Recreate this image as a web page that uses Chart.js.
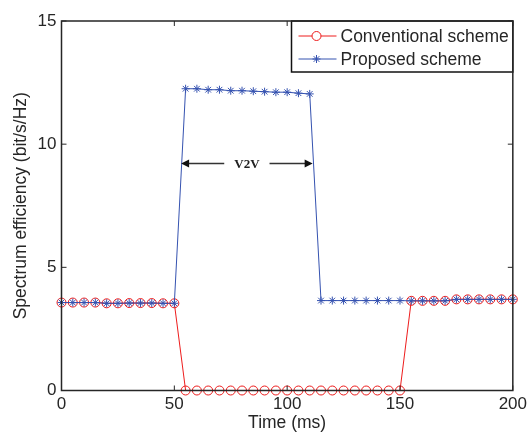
<!DOCTYPE html>
<html>
<head>
<meta charset="utf-8">
<script src="https://cdn.jsdelivr.net/npm/chart.js@4.4.1/dist/chart.umd.min.js"></script>
<style>
	body { margin: 0; background: #fff; }
	canvas { display: block; }
</style>
</head>
<body>
<canvas id="myChart" width="531" height="432"></canvas>
<script>
// time axis (ms), one point every 5 ms
const time = [0, 5, 10, 15, 20, 25, 30, 35, 40, 45, 50,
	55, 60, 65, 70, 75, 80, 85, 90, 95, 100, 105, 110,
	115, 120, 125, 130, 135, 140, 145, 150,
	155, 160, 165, 170, 175, 180, 185, 190, 195, 200];

// spectrum efficiency (bit/s/Hz)
const conventional = [3.57, 3.57, 3.57, 3.57, 3.54, 3.54, 3.55, 3.55, 3.55, 3.54, 3.54,
	0, 0, 0, 0, 0, 0, 0, 0, 0, 0, 0, 0,
	0, 0, 0, 0, 0, 0, 0, 0,
	3.64, 3.64, 3.64, 3.64, 3.70, 3.70, 3.70, 3.70, 3.70, 3.70];
const proposed = [3.57, 3.57, 3.57, 3.57, 3.54, 3.54, 3.55, 3.55, 3.55, 3.54, 3.54,
	12.25, 12.25, 12.21, 12.21, 12.17, 12.17, 12.15, 12.13, 12.11, 12.11, 12.07, 12.04,
	3.65, 3.65, 3.65, 3.65, 3.65, 3.65, 3.65, 3.65,
	3.64, 3.64, 3.64, 3.64, 3.70, 3.70, 3.70, 3.70, 3.70, 3.70];

const seriesNames = ['Conventional scheme', 'Proposed scheme'];
const xTicks = [0, 50, 100, 150, 200];
const yTicks = [0, 5, 10, 15];

// the V2V arrow (data units)
const arrowFrom = 53;
const arrowTo = 111.3;
const arrowY = 9.22;
const arrowText = 'V2V';

const red = '#ee1c1c';
const blue = '#3552b0';
const ink = '#262626';
const sans = '"Liberation Sans", Arial, sans-serif';

const toPoints = (vals) => vals.map((v, i) => ({x: time[i], y: v}));

// box round the plot, inward ticks, legend and the arrow
const matlabLook = {
	id: 'matlabLook',
	beforeDraw(chart) {
		const c = chart.ctx;
		c.save();
		c.fillStyle = '#fff';
		c.fillRect(0, 0, chart.width, chart.height);
		c.restore();
	},
	afterDatasetsDraw(chart) {
		const c = chart.ctx;
		const a = chart.chartArea;
		const xs = chart.scales.x;
		const ys = chart.scales.y;
		c.save();

		// arrow
		const x1 = xs.getPixelForValue(arrowFrom);
		const x2 = xs.getPixelForValue(arrowTo);
		const yA = ys.getPixelForValue(arrowY);
		const mid = (x1 + x2) / 2;
		c.font = 'bold 13px "Liberation Serif", "Times New Roman", serif';
		const tw = c.measureText(arrowText).width;
		c.fillStyle = '#222';
		c.textAlign = 'center';
		c.textBaseline = 'middle';
		c.fillText(arrowText, mid, yA + 1);
		c.strokeStyle = '#333';
		c.lineWidth = 1.5;
		c.beginPath();
		c.moveTo(x1 + 6, yA); c.lineTo(mid - tw / 2 - 10, yA);
		c.moveTo(mid + tw / 2 + 10, yA); c.lineTo(x2 - 6, yA);
		c.stroke();
		c.fillStyle = '#111';
		c.beginPath();
		c.moveTo(x1, yA); c.lineTo(x1 + 8, yA - 4); c.lineTo(x1 + 8, yA + 4); c.closePath();
		c.moveTo(x2, yA); c.lineTo(x2 - 8, yA - 4); c.lineTo(x2 - 8, yA + 4); c.closePath();
		c.fill();

		// ticks pointing inward, on all four sides
		c.strokeStyle = ink;
		c.lineWidth = 1;
		c.beginPath();
		xTicks.forEach(t => {
			const px = xs.getPixelForValue(t);
			c.moveTo(px, a.bottom); c.lineTo(px, a.bottom - 5);
			c.moveTo(px, a.top); c.lineTo(px, a.top + 5);
		});
		yTicks.forEach(t => {
			const py = ys.getPixelForValue(t);
			c.moveTo(a.left, py); c.lineTo(a.left + 5, py);
			c.moveTo(a.right, py); c.lineTo(a.right - 5, py);
		});
		c.stroke();

		// legend, tucked in the top right corner
		const lx = 291.5, ly = a.top, lw = a.right - lx, lh = 51;
		c.fillStyle = '#fff';
		c.fillRect(lx, ly, lw, lh);
		c.strokeStyle = '#111';
		c.lineWidth = 1.5;
		c.strokeRect(lx, ly, lw, lh);
		chart.data.datasets.forEach((ds, i) => {
			const rowY = ly + 15 + i * 23;
			c.strokeStyle = ds.borderColor;
			c.lineWidth = 1;
			c.beginPath();
			c.moveTo(lx + 7, rowY); c.lineTo(lx + 45, rowY);
			c.stroke();
			Chart.helpers.drawPoint(c, {
				pointStyle: ds.pointStyle,
				radius: ds.pointRadius,
				borderWidth: 1,
				rotation: 0
			}, lx + 25, rowY);
			c.fillStyle = ink;
			c.font = '17.5px ' + sans;
			c.textAlign = 'left';
			c.textBaseline = 'middle';
			c.fillText(ds.label, lx + 49, rowY + 1);
		});

		// the box itself
		c.strokeStyle = ink;
		c.lineWidth = 1.5;
		c.strokeRect(a.left, a.top, a.right - a.left, a.bottom - a.top);
		c.restore();
	}
};

const myChart = document.getElementById('myChart');

let lineChart = new Chart(myChart, {
	type: 'line',
	data: {
		datasets: [{
			label: seriesNames[0],
			data: toPoints(conventional),
			borderColor: red,
			borderWidth: 1,
			pointStyle: 'circle',
			pointRadius: 4.5,
			pointBorderColor: red,
			pointBackgroundColor: 'rgba(0,0,0,0)',
			pointBorderWidth: 1,
			tension: 0,
			clip: false,
			order: 1
		}, {
			label: seriesNames[1],
			data: toPoints(proposed),
			borderColor: blue,
			borderWidth: 1,
			pointStyle: 'star',
			pointRadius: 4,
			pointBorderColor: blue,
			pointBackgroundColor: blue,
			pointBorderWidth: 1,
			tension: 0,
			clip: false,
			order: 0
		}]
	},
	options: {
		responsive: false,
		animation: false,
		layout: {
			padding: {left: 0, right: 17, top: 21, bottom: 0}
		},
		plugins: {
			legend: {display: false},
			tooltip: {enabled: false}
		},
		scales: {
			x: {
				type: 'linear',
				min: 0,
				max: 200,
				afterFit: (s) => { s.height = 41.5; },
				afterBuildTicks: (s) => { s.ticks = xTicks.map(v => ({value: v})); },
				grid: {display: false, drawTicks: false},
				border: {display: false},
				ticks: {
					padding: 4,
					color: ink,
					font: {family: sans, size: 17}
				},
				title: {
					display: true,
					text: 'Time (ms)',
					color: ink,
					font: {family: sans, size: 17.5, lineHeight: 1},
					padding: {top: 0, bottom: 0}
				}
			},
			y: {
				min: 0,
				max: 15,
				afterFit: (s) => { s.width = 61.5; },
				afterBuildTicks: (s) => { s.ticks = yTicks.map(v => ({value: v})); },
				grid: {display: false, drawTicks: false},
				border: {display: false},
				ticks: {
					padding: 5,
					color: ink,
					font: {family: sans, size: 17}
				},
				title: {
					display: true,
					text: 'Spectrum efficiency (bit/s/Hz)',
					color: ink,
					font: {family: sans, size: 17.5, lineHeight: 1},
					padding: {top: 12, bottom: 0}
				}
			}
		}
	},
	plugins: [matlabLook]
});
</script>
</body>
</html>
